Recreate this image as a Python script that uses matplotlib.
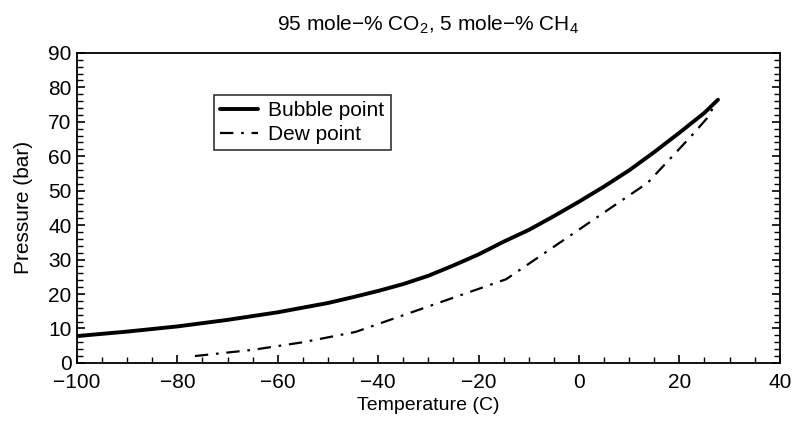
import matplotlib.pyplot as plt
from matplotlib.ticker import MultipleLocator

plt.rcParams['font.family'] = ['Liberation Sans', 'DejaVu Sans']
plt.rcParams['mathtext.fontset'] = 'custom'
plt.rcParams['mathtext.rm'] = 'Liberation Sans'

# Data
bubble_T = [-100, -90, -80, -70, -60, -50, -45, -40, -35, -30, -25, -20, -15, -10, -5, 0,
            5, 10, 15, 20, 25, 27.7]
bubble_P = [7.8, 9.1, 10.6, 12.5, 14.7, 17.4, 19.1, 20.9, 22.9, 25.3, 28.3, 31.5, 35.2, 38.6,
            42.6, 46.8, 51.2, 55.9, 61.2, 66.8, 72.6, 76.4]

dew_T = [-76.5, -65, -55, -44.5, -14.5, 13.7, 22.6, 25.5, 26.5, 27.3]
dew_P = [2.0, 3.8, 6.0, 9.0, 24.3, 52.3, 66.2, 71.0, 73.5, 75.5]

fig = plt.figure(figsize=(7.94, 4.23), dpi=100)
ax = fig.add_axes([0.097, 0.142, 0.885, 0.733])

ax.plot(bubble_T, bubble_P, color='black', linewidth=2.8, solid_capstyle='round',
        solid_joinstyle='round', label='Bubble point')
ax.plot(dew_T, dew_P, color='black', linewidth=1.6, linestyle=(0, (6, 3.5, 1.2, 3.5)), label='Dew point')

ax.set_xlim(-100, 40)
ax.set_ylim(0, 90)
ax.xaxis.set_major_locator(MultipleLocator(20))
ax.xaxis.set_minor_locator(MultipleLocator(5))
ax.yaxis.set_major_locator(MultipleLocator(10))
ax.yaxis.set_minor_locator(MultipleLocator(2))
ax.tick_params(which='both', direction='in', left=True, right=True, top=False, labelsize=15)
ax.tick_params(which='major', length=6, width=1.2)
ax.tick_params(which='minor', length=4, width=1.0)
ax.tick_params(axis='y', pad=4)
ax.tick_params(axis='x', pad=7)
for s in ax.spines.values():
    s.set_linewidth(1.3)

ax.set_xlabel('Temperature (C)', fontsize=14, labelpad=4)
ax.set_ylabel('Pressure (bar)', fontsize=15, labelpad=11)
ax.set_title('95 mole\u2212% CO$_2$, 5 mole\u2212% CH$_4$', fontsize=15, pad=16)

leg = ax.legend(loc='upper left', bbox_to_anchor=(0.195, 0.865), fontsize=15, frameon=True,
                fancybox=False, handlelength=1.8, handletextpad=0.5, borderpad=0.3,
                labelspacing=0.25, borderaxespad=0)
leg.get_frame().set_edgecolor('black')
leg.get_frame().set_linewidth(1.2)

fig.savefig('out.png', dpi=100)
